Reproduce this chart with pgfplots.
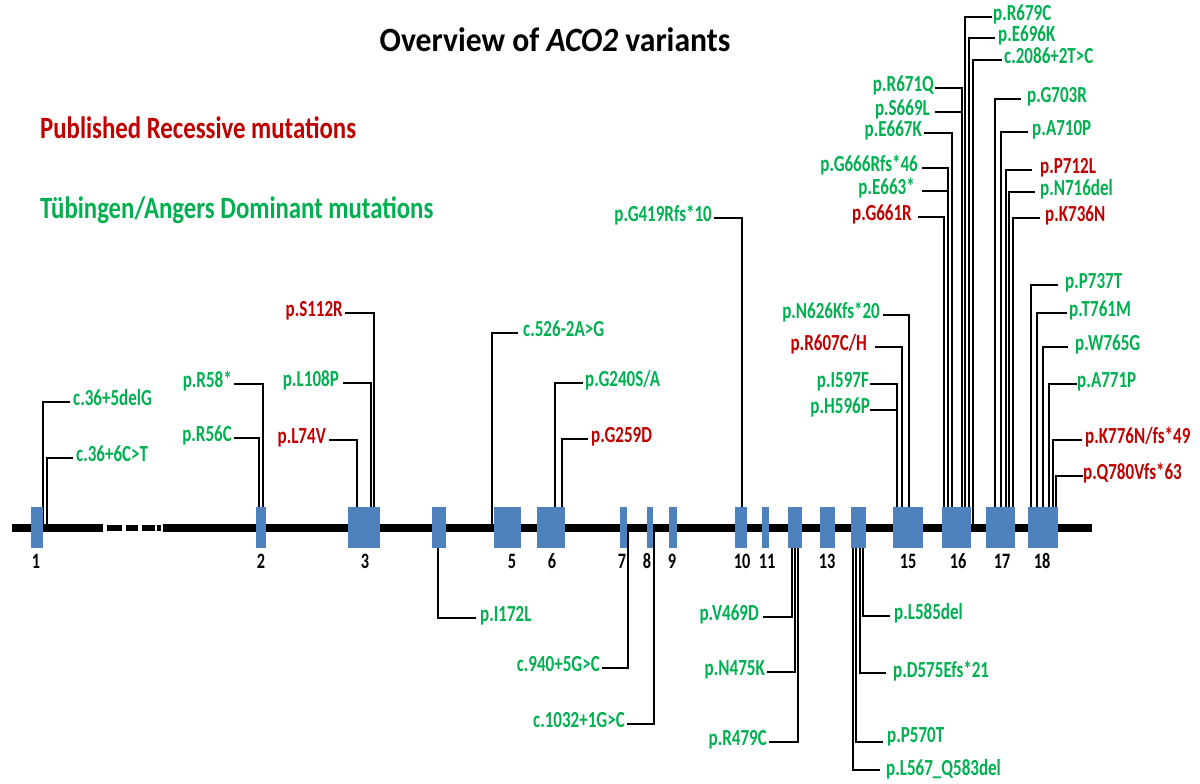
\documentclass[border=0pt]{standalone}
\usepackage{pgfplots}
\pgfplotsset{compat=1.18}
\usepackage{fontspec}
\setmainfont{Carlito}[FakeStretch=0.74]
\newfontfamily\titlefont{Carlito}[FakeStretch=0.93]
\newfontfamily\legfont{Carlito}[FakeStretch=0.80]
\definecolor{mgreen}{RGB}{0,176,80}
\definecolor{mred}{RGB}{192,0,0}
\definecolor{exon}{RGB}{79,129,189}
\tikzset{
  leader/.style={black, line width=2.2pt},
  lab/.style={inner sep=0pt, font=\bfseries\fontsize{23}{25}\selectfont, text height=0.64em, text depth=0em}
}
\newcommand{\ld}[1]{\addplot[leader, no marks] coordinates {#1};}
\newcommand{\exon}[2]{\addplot[fill=exon,draw=none,no marks] coordinates {(#1,507) (#2,507) (#2,548) (#1,548)} -- cycle;}
\newcommand{\labW}[4]{\node[lab,anchor=west,text=#1] at (axis cs:#2,#3) {#4};}
\newcommand{\labE}[4]{\node[lab,anchor=east,text=#1] at (axis cs:#2,#3) {#4};}
\newcommand{\exnum}[2]{\node[lab,text=black,font=\bfseries\fontsize{22}{24}\selectfont] at (axis cs:#1,565) {#2};}
\begin{document}
\begin{tikzpicture}
\begin{axis}[name=ax,
  scale only axis, width=1200pt, height=784pt,
  xmin=0, xmax=1200, ymin=0, ymax=784, y dir=reverse,
  hide axis, clip=false,
  every axis plot/.append style={no marks}
]
% main gene line
\addplot[black, line width=8pt] coordinates {(12,528) (103,528)};
\addplot[black, line width=6pt] coordinates {(107,528) (122,528)};
\addplot[black, line width=6pt] coordinates {(126,528) (138,528)};
\addplot[black, line width=6pt] coordinates {(142,528) (155,528)};
\addplot[black, line width=6pt] coordinates {(157,528) (161,528)};
\addplot[black, line width=8pt] coordinates {(163,528) (1092,528)};
% leaders
\ld{(70,402) (43,402) (43,527)}
\ld{(73,458) (47,458) (47,527)}
\ld{(234,384) (263,384) (263,507)}
\ld{(234,438) (259,438) (259,507)}
\ld{(345,313) (374,313) (374,507)}
\ld{(343,383) (371,383) (371,507)}
\ld{(329,440) (357,440) (357,507)}
\ld{(438,548) (438,618) (476,618)}
\ld{(492,528) (492,333) (518,333)}
\ld{(555,507) (555,383) (583,383)}
\ld{(562,507) (562,439) (588,439)}
\ld{(628,528) (628,668) (602,668)}
\ld{(654,528) (654,724) (627,724)}
\ld{(714,218) (742,218) (742,507)}
\ld{(792,548) (792,617) (763,617)}
\ld{(795,548) (795,672) (767,672)}
\ld{(798,548) (798,742) (769,742)}
\ld{(863,548) (863,616) (890,616)}
\ld{(860,548) (860,673) (886,673)}
\ld{(856,548) (856,742) (883,742)}
\ld{(853,548) (853,770) (880,770)}
\ld{(883,315) (909,315) (909,507)}
\ld{(875,347) (902,347) (902,507)}
\ld{(870,384) (897,384) (897,507)}
\ld{(870,410) (897,410)}
\ld{(918,217) (944,217) (944,507)}
\ld{(922,191) (948,191)}
\ld{(922,168) (948,168) (948,507)}
\ld{(924,133) (952,133) (952,507)}
\ld{(935,112) (962,112)}
\ld{(935,88) (962,88) (962,507)}
\ld{(992,17) (965,17) (965,507)}
\ld{(995,38) (969,38) (969,507)}
\ld{(1002,60) (973,60) (973,528)}
\ld{(1021,99) (995,99) (995,507)}
\ld{(1028,132) (1001,132) (1001,507)}
\ld{(1032,170) (1006,170) (1006,507)}
\ld{(1035,192) (1009,192) (1009,507)}
\ld{(1040,218) (1013,218) (1013,507)}
\ld{(1058,285) (1031,285) (1031,507)}
\ld{(1067,313) (1037,313) (1037,507)}
\ld{(1068,347) (1043,347) (1043,507)}
\ld{(1077,384) (1049,384) (1049,507)}
\ld{(1082,440) (1053,440) (1053,507)}
\ld{(1083,476) (1056,476) (1056,507)}
% exons
\exon{31}{43}
\exon{256}{266}
\exon{348}{380}
\exon{432}{446}
\exon{494}{521}
\exon{537}{565}
\exon{620}{627}
\exon{647}{653}
\exon{669}{677}
\exon{735}{747}
\exon{762}{769}
\exon{788}{802}
\exon{820}{835}
\exon{851}{866}
\exon{893}{923}
\exon{942}{971}
\exon{986}{1015}
\exon{1028}{1058}
% exon numbers
\exnum{36}{1}\exnum{261}{2}\exnum{365}{3}\exnum{512}{5}\exnum{552}{6}\exnum{622}{7}
\exnum{647}{8}\exnum{672}{9}\exnum{742}{10}\exnum{767}{11}\exnum{827}{13}
\exnum{908}{15}\exnum{958}{16}\exnum{1002}{17}\exnum{1042}{18}
% labels
\labW{mgreen}{73}{402}{c.36+5delG}
\labW{mgreen}{76}{458}{c.36+6C>T}
\labE{mgreen}{232}{384}{p.R58*}
\labE{mgreen}{232}{438}{p.R56C}
\labE{mred}{343}{313}{p.S112R}
\labE{mgreen}{339}{383}{p.L108P}
\labE{mred}{326}{440}{p.L74V}
\labW{mgreen}{480}{618}{p.I172L}
\labW{mgreen}{523}{333}{c.526-2A>G}
\labW{mgreen}{585}{383}{p.G240S/A}
\labW{mred}{591}{439}{p.G259D}
\labE{mgreen}{600}{668}{c.940+5G>C}
\labE{mgreen}{625}{724}{c.1032+1G>C}
\labE{mgreen}{712}{218}{p.G419Rfs*10}
\labE{mgreen}{759}{617}{p.V469D}
\labE{mgreen}{765}{672}{p.N475K}
\labE{mgreen}{767}{742}{p.R479C}
\labW{mgreen}{894}{616}{p.L585del}
\labW{mgreen}{893}{674}{p.D575Efs*21}
\labW{mgreen}{887}{739}{p.P570T}
\labW{mgreen}{886}{772}{p.L567\_Q583del}
\labE{mgreen}{880}{315}{p.N626Kfs*20}
\labE{mred}{867}{347}{p.R607C/H}
\labE{mgreen}{869}{384}{p.I597F}
\labE{mgreen}{870}{410}{p.H596P}
\labE{mred}{912}{217}{p.G661R}
\labE{mgreen}{915}{191}{p.E663*}
\labE{mgreen}{918}{168}{p.G666Rfs*46}
\labE{mgreen}{922}{133}{p.E667K}
\labE{mgreen}{930}{112}{p.S669L}
\labE{mgreen}{934}{88}{p.R671Q}
\labW{mgreen}{993}{17}{p.R679C}
\labW{mgreen}{998}{38}{p.E696K}
\labW{mgreen}{1004}{60}{c.2086+2T>C}
\labW{mgreen}{1027}{99}{p.G703R}
\labW{mgreen}{1032}{132}{p.A710P}
\labW{mred}{1040}{170}{p.P712L}
\labW{mgreen}{1040}{192}{p.N716del}
\labW{mred}{1045}{218}{p.K736N}
\labW{mgreen}{1065}{285}{p.P737T}
\labW{mgreen}{1069}{313}{p.T761M}
\labW{mgreen}{1075}{347}{p.W765G}
\labW{mgreen}{1077}{384}{p.A771P}
\labW{mred}{1085}{440}{p.K776N/fs*49}
\labW{mred}{1083}{476}{p.Q780Vfs*63}
% title and legend
\node[inner sep=0pt, font=\titlefont\bfseries\fontsize{34}{36}\selectfont] at (axis cs:555,40) {Overview of \textit{ACO2} variants};
\node[inner sep=0pt, anchor=west, text=mred, font=\legfont\bfseries\fontsize{31}{33}\selectfont] at (axis cs:40,128) {Published Recessive mutations};
\node[inner sep=0pt, anchor=west, text=mgreen, font=\legfont\bfseries\fontsize{31}{33}\selectfont] at (axis cs:40,210) {Tübingen/Angers Dominant mutations};
\end{axis}
\pgfresetboundingbox
\path[use as bounding box] (ax.south west) rectangle (ax.north east);
\end{tikzpicture}
\end{document}
